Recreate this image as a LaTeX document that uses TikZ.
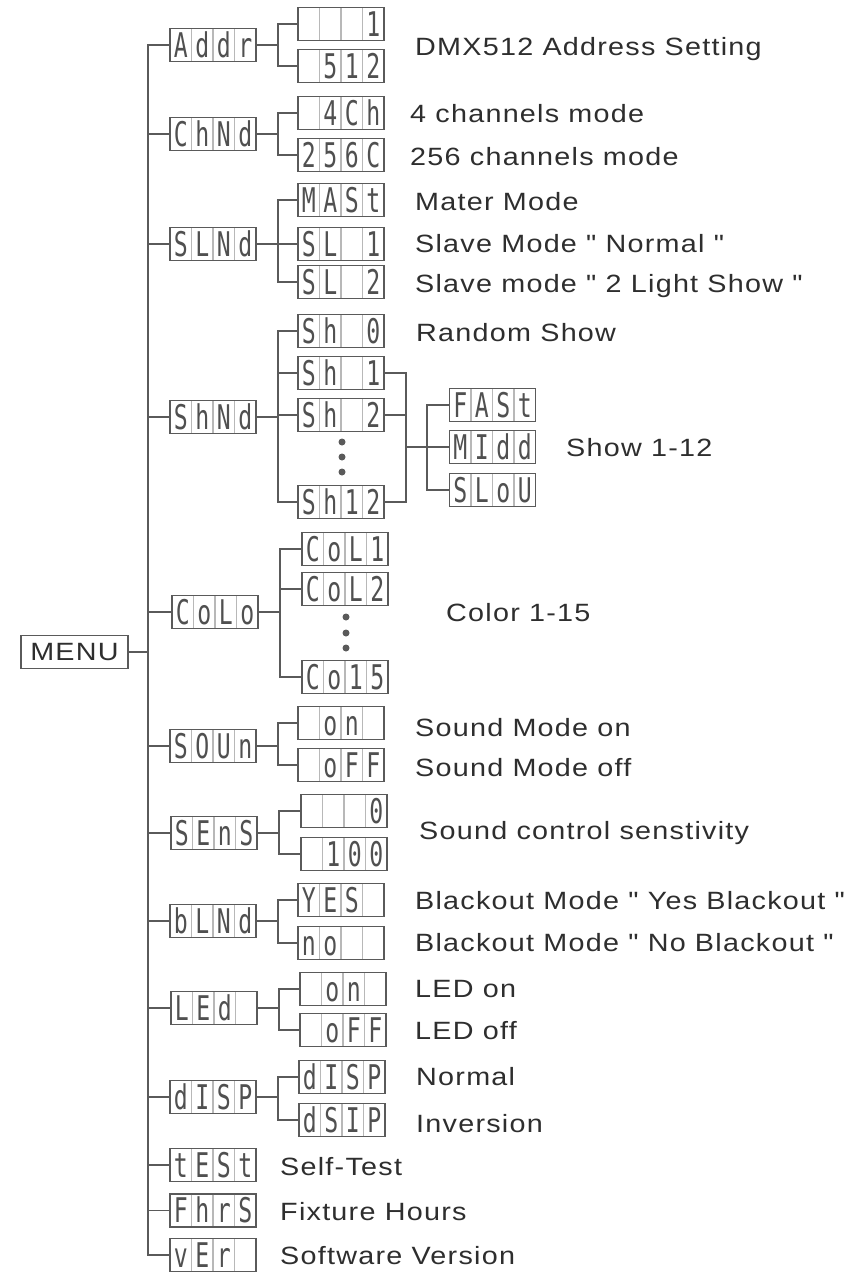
\documentclass[tikz,border=0pt]{standalone}
\usepackage{fontspec}
\setmainfont{Liberation Sans}
\newfontfamily\lblfont{Liberation Sans}[FakeStretch=1.15,LetterSpace=5]
\newfontfamily\segfont{DejaVu Sans Mono}[FakeStretch=0.68]
\definecolor{ln}{HTML}{5A5A5A}
\definecolor{txt}{HTML}{2E2E2E}
\definecolor{cdv}{HTML}{B8B8B8}
\definecolor{seg}{HTML}{505050}
\tikzset{
  dbox/.style={draw=ln, line width=1.8pt, minimum width=86pt, minimum height=33pt, inner sep=0pt, fill=white},
  cdiv/.style={draw=cdv, line width=1.2pt},
  dch/.style={inner sep=0pt, anchor=base, text=seg, font=\segfont\fontsize{34}{34}\selectfont},
  conn/.style={draw=ln, line width=1.8pt},
  lbl/.style={inner sep=0pt, anchor=base west, text=txt, font=\lblfont\fontsize{25}{30}\selectfont},
  dotn/.style={circle, fill=ln, inner sep=0pt, minimum size=7pt},
  menubox/.style={draw=ln, line width=1.8pt, minimum width=107pt, minimum height=33pt, inner sep=0pt, text=txt, font=\lblfont\fontsize{25}{30}\selectfont}
}
\newcommand{\segdisp}[7]{%
  \node[dbox] (#1) at (#2,#3) {};
  \foreach \k in {-21.5,0,21.5} \draw[cdiv] ([xshift=\k pt,yshift=-1.5pt]#1.north) -- ([xshift=\k pt,yshift=1.5pt]#1.south);
  \node[dch] (#1-c1) at ([xshift=-32.25pt,yshift=-12.4pt]#1.center) {#4};
  \node[dch] (#1-c2) at ([xshift=-10.75pt,yshift=-12.4pt]#1.center) {#5};
  \node[dch] (#1-c3) at ([xshift=10.75pt,yshift=-12.4pt]#1.center) {#6};
  \node[dch] (#1-c4) at ([xshift=32.25pt,yshift=-12.4pt]#1.center) {#7};
}
\begin{document}
\begin{tikzpicture}[x=1pt,y=-1pt]
\useasboundingbox (0,0) rectangle (867,1274);
\coordinate (spine) at (148,0);

% menu
\node[menubox] (menu) at (74.5,652) {MENU};

% level 1
\segdisp{addr}{213}{45}{A}{d}{d}{r}
\segdisp{chnd}{213}{134}{C}{h}{N}{d}
\segdisp{slnd}{213}{244}{S}{L}{N}{d}
\segdisp{shnd}{213}{417}{S}{h}{N}{d}
\segdisp{colo}{215}{612}{C}{o}{L}{o}
\segdisp{soun}{213}{746}{S}{O}{U}{n}
\segdisp{sens}{214}{833}{S}{E}{n}{S}
\segdisp{blnd}{213}{921}{b}{L}{N}{d}
\segdisp{led}{214}{1008}{L}{E}{d}{}
\segdisp{disp}{213}{1097}{d}{I}{S}{P}
\segdisp{test}{213}{1165}{t}{E}{S}{t}
\segdisp{fhrs}{213}{1210.5}{F}{h}{r}{S}
\segdisp{ver}{213}{1255}{v}{E}{r}{}

% level 2
\segdisp{a1}{341}{24}{}{}{}{1}
\segdisp{a2}{341}{66}{}{5}{1}{2}
\segdisp{c1}{341}{113}{}{4}{C}{h}
\segdisp{c2}{341}{155}{2}{5}{6}{C}
\segdisp{s1}{341}{200}{M}{A}{S}{t}
\segdisp{s2}{341}{244}{S}{L}{}{1}
\segdisp{s3}{341}{282}{S}{L}{}{2}
\segdisp{h0}{341}{331}{S}{h}{}{0}
\segdisp{h1}{341}{373}{S}{h}{}{1}
\segdisp{h2}{341}{415}{S}{h}{}{2}
\segdisp{h12}{341}{502}{S}{h}{1}{2}
\segdisp{col1}{345}{549}{C}{o}{L}{1}
\segdisp{col2}{345}{589}{C}{o}{L}{2}
\segdisp{col15}{345}{677}{C}{o}{1}{5}
\segdisp{so1}{341}{723}{}{o}{n}{}
\segdisp{so2}{341}{765}{}{o}{F}{F}
\segdisp{se1}{344}{811}{}{}{}{0}
\segdisp{se2}{344}{854}{}{1}{0}{0}
\segdisp{b1}{341}{900}{Y}{E}{S}{}
\segdisp{b2}{341}{943}{n}{o}{}{}
\segdisp{l1}{343}{989}{}{o}{n}{}
\segdisp{l2}{343}{1030}{}{o}{F}{F}
\segdisp{d1}{342}{1077}{d}{I}{S}{P}
\segdisp{d2}{342}{1120}{d}{S}{I}{P}

% level 3
\segdisp{fast}{492.5}{405}{F}{A}{S}{t}
\segdisp{midd}{492.5}{447}{M}{I}{d}{d}
\segdisp{slow}{492.5}{490}{S}{L}{o}{U}

% dots
\node[dotn] (hd1) at (342,442) {};
\node[dotn] (hd2) at (342,457) {};
\node[dotn] (hd3) at (342,472) {};
\node[dotn] (cd1) at (346,617) {};
\node[dotn] (cd2) at (346,633) {};
\node[dotn] (cd3) at (346,648) {};

% spine
\draw[conn] (addr.west) -| (ver.west -| spine) -- (ver.west);
\foreach \n in {chnd,slnd,shnd,colo,soun,sens,blnd,led,disp,test,fhrs}
  \draw[conn] (\n.west) -- (\n.west -| spine);
\draw[conn] (menu.east) -- (menu.east -| spine);

% level 1 -> level 2
\foreach \p/\c in {addr/a1,addr/a2,chnd/c1,chnd/c2,slnd/s1,slnd/s2,slnd/s3,shnd/h0,shnd/h1,shnd/h2,shnd/h12,colo/col1,colo/col2,colo/col15,soun/so1,soun/so2,sens/se1,sens/se2,blnd/b1,blnd/b2,led/l1,led/l2,disp/d1,disp/d2}
  \draw[conn] (\p.east) -- ++(21,0) |- (\c.west);

% shows -> speeds
\coordinate (shj) at (406,447);
\draw[conn] (h1.east) -| (shj);
\draw[conn] (h12.east) -| (shj);
\draw[conn] (h2.east) -- (h2.east -| shj);
\foreach \c in {fast,midd,slow}
  \draw[conn] (shj) -- ++(21,0) |- (\c.west);

% labels
\node[lbl] (t1) at (415,55) {DMX512 Address Setting};
\node[lbl] (t2) at (410,122) {4 channels mode};
\node[lbl] (t3) at (410,165) {256 channels mode};
\node[lbl] (t4) at (415,210) {Mater Mode};
\node[lbl] (t5) at (415,252) {Slave Mode " Normal "};
\node[lbl] (t6) at (415,292) {Slave mode " 2 Light Show "};
\node[lbl] (t7) at (416,341) {Random Show};
\node[lbl] (t8) at (566,456) {Show 1-12};
\node[lbl] (t9) at (446,621) {Color 1-15};
\node[lbl] (t10) at (415,736) {Sound Mode on};
\node[lbl] (t11) at (415,776) {Sound Mode off};
\node[lbl] (t12) at (419,839) {Sound control senstivity};
\node[lbl] (t13) at (415,909) {Blackout Mode " Yes Blackout "};
\node[lbl] (t14) at (415,951) {Blackout Mode " No Blackout "};
\node[lbl] (t15) at (415,997) {LED on};
\node[lbl] (t16) at (415,1039) {LED off};
\node[lbl] (t17) at (416,1085) {Normal};
\node[lbl] (t18) at (416,1132) {Inversion};
\node[lbl] (t19) at (280,1175) {Self-Test};
\node[lbl] (t20) at (280,1220) {Fixture Hours};
\node[lbl] (t21) at (280,1264) {Software Version};
\end{tikzpicture}
\end{document}
